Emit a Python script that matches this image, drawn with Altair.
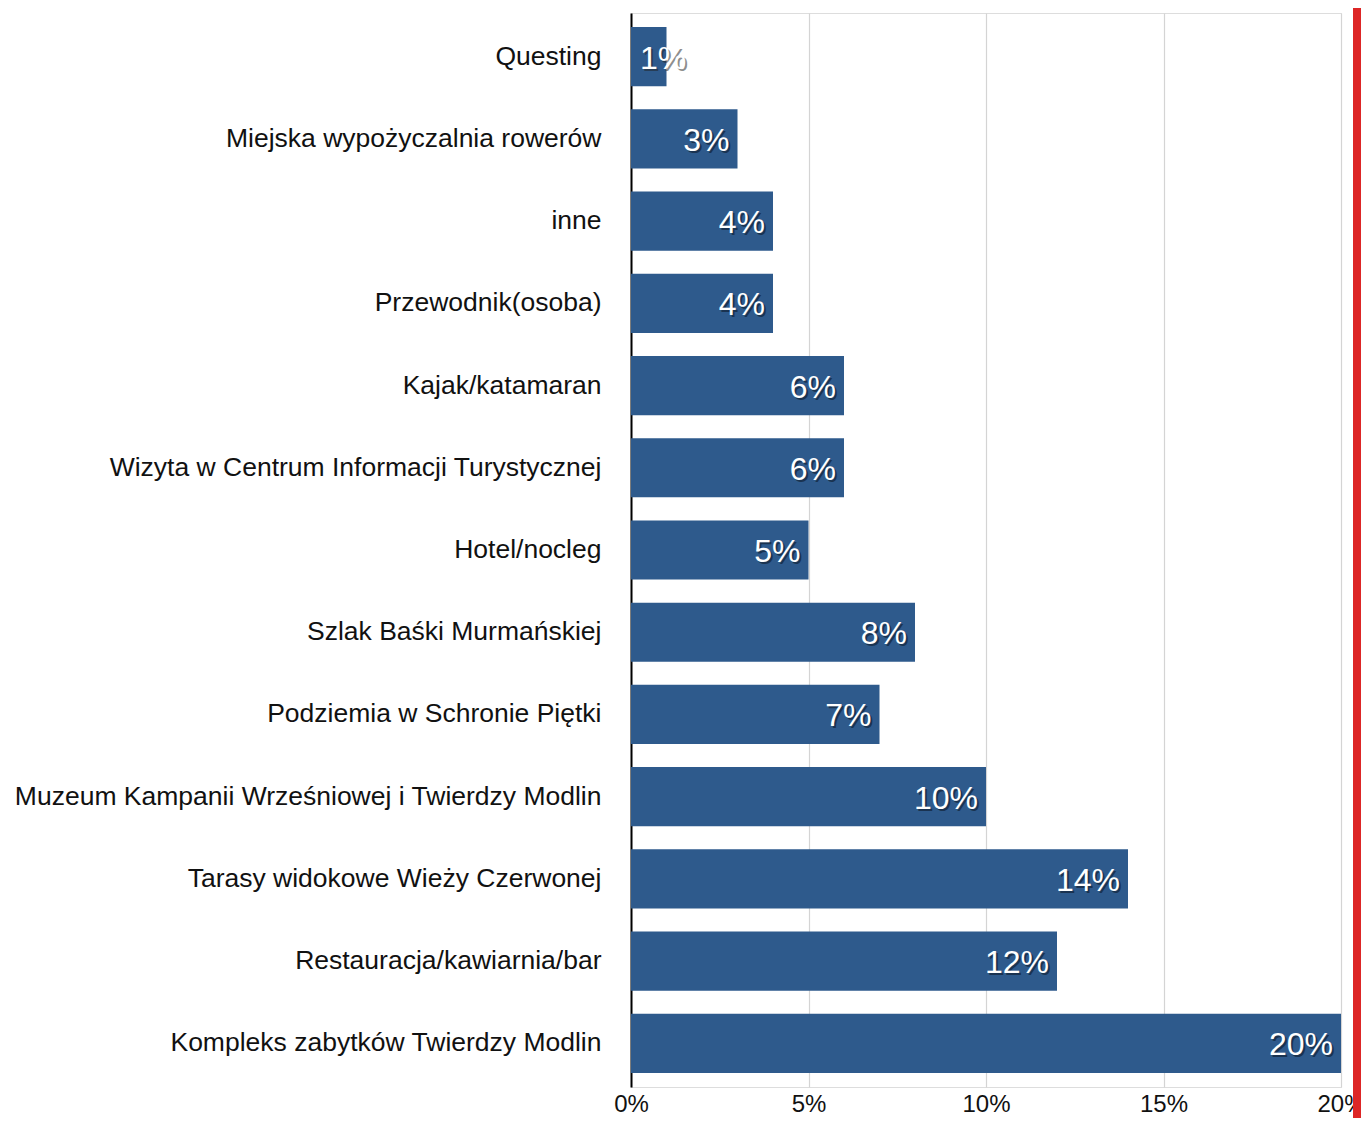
import altair as alt
import pandas as pd

categories = [
    "Questing",
    "Miejska wypożyczalnia rowerów",
    "inne",
    "Przewodnik(osoba)",
    "Kajak/katamaran",
    "Wizyta w Centrum Informacji Turystycznej",
    "Hotel/nocleg",
    "Szlak Baśki Murmańskiej",
    "Podziemia w Schronie Piętki",
    "Muzeum Kampanii Wrześniowej i Twierdzy Modlin",
    "Tarasy widokowe Wieży Czerwonej",
    "Restauracja/kawiarnia/bar",
    "Kompleks zabytków Twierdzy Modlin",
]
values = [1, 3, 4, 4, 6, 6, 5, 8, 7, 10, 14, 12, 20]
labels = ["1%", "3%", "4%", "4%", "6%", "6%", "5%", "8%", "7%", "10%", "14%", "12%", "20%"]
x_ticks = [0, 5, 10, 15, 20]

df = pd.DataFrame({"cat": categories, "val": values, "lab": labels})

FONT = "Liberation Sans"
BAR = "#2e5a8c"

y_enc = alt.Y(
    "cat:N",
    sort=categories,
    scale=alt.Scale(paddingInner=0.28, paddingOuter=0.17),
    axis=alt.Axis(
        title=None,
        labelFont=FONT,
        labelFontSize=26.5,
        labelColor="#111111",
        labelPadding=30,
        ticks=False,
        tickSize=0,
        domain=True,
        domainColor="#000000",
        domainWidth=2,
        grid=False,
        labelLimit=900,
    ),
)
x_enc = alt.X(
    "val:Q",
    scale=alt.Scale(domain=[0, 20], nice=False),
    axis=alt.Axis(
        title=None,
        values=x_ticks,
        labelExpr="datum.value + '%'",
        labelFont=FONT,
        labelFontSize=24,
        labelColor="#111111",
        labelPadding=5,
        ticks=False,
        tickSize=0,
        domain=False,
        grid=True,
        gridColor="#d4d4d4",
        gridWidth=1.2,
        labelFlush=False,
    ),
)

base = alt.Chart(df)

bars = base.mark_bar(color=BAR).encode(y=y_enc, x=x_enc)

fit = alt.datum.val >= 2
small = alt.datum.val < 2

shadow_r = base.transform_filter(fit).mark_text(
    align="right", baseline="middle", font=FONT, fontSize=32,
    color="#0d1a2a", opacity=0.6, dx=-6, dy=4
).encode(y=alt.Y("cat:N", sort=categories), x="val:Q", text="lab:N")
text_r = base.transform_filter(fit).mark_text(
    align="right", baseline="middle", font=FONT, fontSize=32,
    color="#ffffff", dx=-8, dy=2
).encode(y=alt.Y("cat:N", sort=categories), x="val:Q", text="lab:N")

shadow_l = base.transform_filter(small).mark_text(
    align="left", baseline="middle", font=FONT, fontSize=32,
    color="#222222", opacity=0.5, dx=11, dy=4
).encode(y=alt.Y("cat:N", sort=categories), x=alt.datum(0), text="lab:N")
text_l = base.transform_filter(small).mark_text(
    align="left", baseline="middle", font=FONT, fontSize=32,
    color="#ffffff", dx=9, dy=2
).encode(y=alt.Y("cat:N", sort=categories), x=alt.datum(0), text="lab:N")

red = alt.Chart(pd.DataFrame({"k": [0]})).mark_rect(color="#dd2626").encode(
    x=alt.value(722), x2=alt.value(760), y=alt.value(-20), y2=alt.value(1140)
)

chart = (
    alt.layer(bars, shadow_r, text_r, shadow_l, text_l, red)
    .properties(
        width=710,
        height=1074,
        autosize=alt.AutoSizeParams(type="none"),
        padding={"left": 623, "top": 5, "right": 20, "bottom": 31},
    )
    .configure_view(stroke=None)
    .configure(background="#ffffff")
)

chart.save("out.html", embed_options={"renderer": "svg", "actions": False})
